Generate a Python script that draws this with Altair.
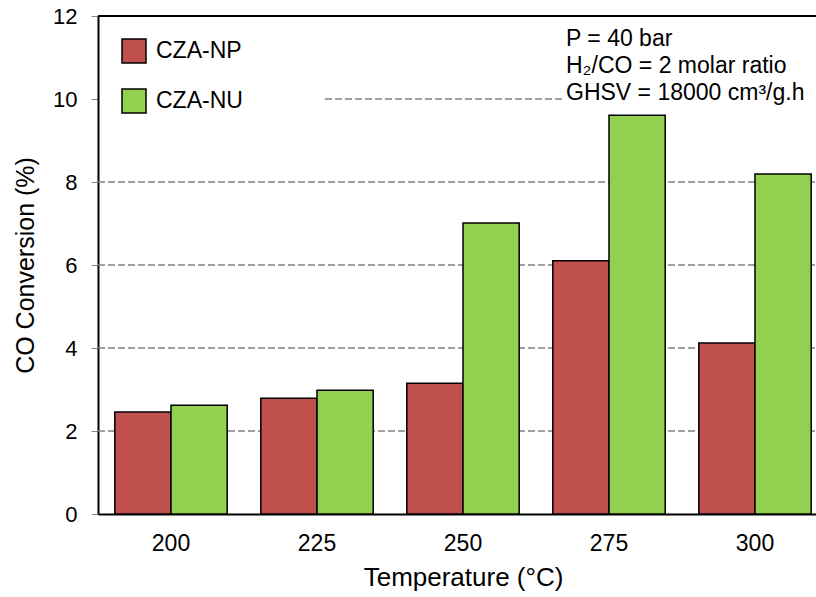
import altair as alt
import pandas as pd

temps = ["200", "225", "250", "275", "300"]
series = ["CZA-NP", "CZA-NU"]
np_vals = [2.46, 2.79, 3.15, 6.10, 4.12]
nu_vals = [2.62, 2.98, 7.01, 9.61, 8.19]
y_ticks = [0, 2, 4, 6, 8, 10, 12]
grid_full = [2, 4, 6, 8]
grid_part = [10]
top_line = [12]
notes = ["P = 40 bar", "H₂/CO = 2 molar ratio", "GHSV = 18000 cm³/g.h"]
colors = ["#C0504D", "#92D050"]

rows = []
for t, a, b in zip(temps, np_vals, nu_vals):
    rows.append({"Temperature": t, "Series": series[0], "Value": a})
    rows.append({"Temperature": t, "Series": series[1], "Value": b})
df = pd.DataFrame(rows)

W, H = 718, 498
FONT = "Liberation Sans"
yscale = alt.Scale(domain=[0, 12], nice=False, zero=True)

def y_axis():
    return alt.Axis(
        title="CO Conversion (%)", values=y_ticks, grid=False,
        labelFontSize=22, labelPadding=14, labelFont=FONT, labelColor="black",
        tickColor="#888888", tickSize=7, tickWidth=1,
        titleFontSize=25, titleFont=FONT, titleFontWeight="normal", titleColor="black",
        titlePadding=14, domainColor="black", domainWidth=2,
    )

grid1 = alt.Chart(pd.DataFrame({"v": grid_full})).mark_rule(
    color="#808080", strokeDash=[7, 3], strokeWidth=1.3
).encode(
    y=alt.Y("v:Q", scale=yscale, axis=y_axis()),
    x=alt.value(0), x2=alt.value(W),
)
grid2 = alt.Chart(pd.DataFrame({"v": grid_part})).mark_rule(
    color="#808080", strokeDash=[7, 3], strokeWidth=1.3
).encode(
    y=alt.Y("v:Q", scale=yscale, axis=y_axis()),
    x=alt.value(227), x2=alt.value(467),
)

bars = alt.Chart(df).mark_bar(stroke="black", strokeWidth=1.5).encode(
    x=alt.X(
        "Temperature:N", sort=temps,
        scale=alt.Scale(range=[0, 730], paddingInner=0.23, paddingOuter=0.115),
        axis=alt.Axis(
            title="Temperature (°C)", labelAngle=0, ticks=False,
            labelFontSize=23, labelPadding=18, labelFont=FONT, labelColor="black",
            titleFontSize=26, titleFont=FONT, titleFontWeight="normal", titleColor="black",
            titlePadding=9, domainColor="black", domainWidth=2,
        ),
    ),
    xOffset=alt.XOffset("Series:N", sort=series),
    y=alt.Y("Value:Q", scale=yscale, axis=y_axis()),
    color=alt.Color(
        "Series:N",
        scale=alt.Scale(domain=series, range=colors),
        legend=alt.Legend(
            title=None, orient="none", legendX=23, legendY=22,
            symbolType="square", symbolSize=576, symbolStrokeColor="black",
            symbolStrokeWidth=1.5, labelFontSize=23, labelFont=FONT,
            labelColor="black", labelOffset=9, rowPadding=20, padding=0,
        ),
    ),
)

top = alt.Chart(pd.DataFrame({"v": top_line})).mark_rule(
    color="black", strokeWidth=2
).encode(
    y=alt.Y("v:Q", scale=yscale, axis=y_axis()),
    x=alt.value(0), x2=alt.value(W),
)

text = alt.Chart(pd.DataFrame({"v": [0]})).mark_text(
    align="left", baseline="alphabetic", fontSize=23, font=FONT,
    color="black", lineHeight=27,
).encode(
    x=alt.value(468), y=alt.value(30), text=alt.value(notes),
)

chart = alt.layer(grid1, grid2, bars, top, text).properties(
    width=W, height=H,
    autosize=alt.AutoSizeParams(type="none"),
    padding={"left": 98, "top": 16, "right": 0, "bottom": 83},
).configure_view(stroke=None)

chart.save("out.html", embed_options={"renderer": "svg", "actions": False})
